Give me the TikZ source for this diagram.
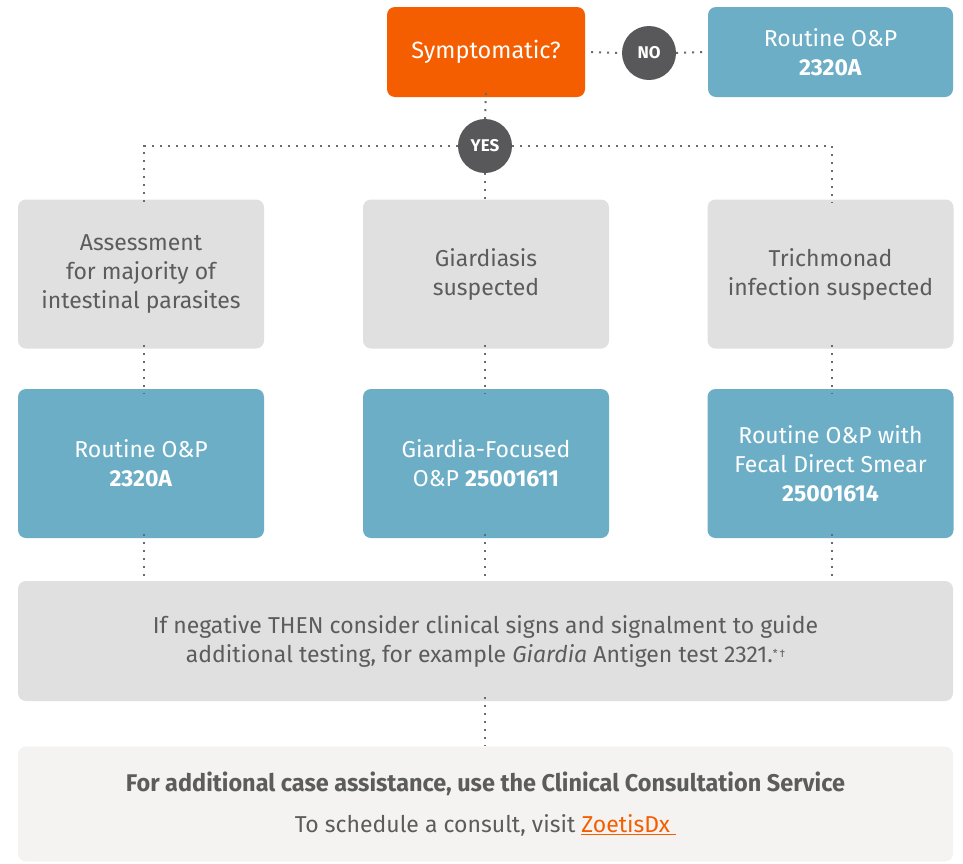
\documentclass[tikz,border=0pt]{standalone}
\usepackage{fontspec}
\setmainfont{Fira Sans}
\usetikzlibrary{calc}
\definecolor{zorange}{HTML}{F55E00}
\definecolor{zblue}{HTML}{6DAEC7}
\definecolor{zgray}{HTML}{E0E0E0}
\definecolor{zlight}{HTML}{F4F3F1}
\definecolor{zdark}{HTML}{58585A}
\definecolor{ztext}{HTML}{5C5C5C}
\definecolor{zdot}{HTML}{6A6A6A}
\tikzset{
  box/.style={rectangle, rounded corners=8pt, minimum width=246pt, minimum height=149pt, align=center, inner sep=0pt, font=\fontsize{23}{29}\selectfont},
  graybox/.style={box, fill=zgray, text=ztext},
  bluebox/.style={box, fill=zblue, text=white},
  circ/.style={circle, fill=zdark, text=white, minimum size=54pt, inner sep=0pt, font=\bfseries\fontsize{17}{17}\selectfont},
  dotline/.style={draw=zdot, line width=2pt, dash pattern=on 2pt off 6pt},
}
\begin{document}
\begin{tikzpicture}[x=1pt,y=-1pt]
\fill[white] (0,0) rectangle (963,863);
\useasboundingbox (0,0) rectangle (963,863);
% top row
\node[box, fill=zorange, text=white, minimum width=198pt, minimum height=90pt, font=\fontsize{23.5}{29}\selectfont] (sym) at (486,52) {Symptomatic?};
\node[bluebox, minimum width=245pt, minimum height=90pt] (rtop) at (830.5,52) {Routine O\&P\\\textbf{2320A}};
\node[circ] (no) at (649,53) {NO};
\node[circ] (yes) at (485,146) {YES};
% row 2
\node[graybox] (a1) at (141,274) {Assessment\\for majority of\\intestinal parasites};
\node[graybox] (a2) at (486,274) {Giardiasis\\suspected};
\node[graybox] (a3) at (830.5,274) {Trichmonad\\infection suspected};
% row 3
\node[bluebox] (b1) at (141,463.5) {Routine O\&P\\\textbf{2320A}};
\node[bluebox] (b2) at (486,463.5) {Giardia-Focused\\O\&P \textbf{25001611}};
\node[bluebox] (b3) at (830.5,463.5) {Routine O\&P with\\Fecal Direct Smear\\\textbf{25001614}};
% big box
\node[graybox, minimum width=935pt, minimum height=120pt] (neg) at (485.5,641) {If negative THEN consider clinical signs and signalment to guide\\additional testing, for example \textit{Giardia} Antigen test 2321.{\fontsize{11}{11}\selectfont\raisebox{0.7ex}{*\,†}}};
% bottom box
\node[box, fill=zlight, text=ztext, minimum width=935pt, minimum height=115pt] (cons) at (485.5,804) {\scalebox{1.02}[1.05]{\bfseries For additional case assistance, use the Clinical Consultation Service}\\[12pt]To schedule a consult, visit \textcolor{zorange}{\underline{ZoetisDx\ }}};
% connectors
\coordinate (jl) at (144,146);
\coordinate (jr) at (832,146);
\draw[dotline] ([xshift=6pt]sym.east) -- (no.west);
\draw[dotline] (no.east) -- ([xshift=-4pt]rtop.west);
\draw[dotline] ([yshift=4pt]sym.south) -- (yes.north);
\draw[dotline] (yes.west) -- (jl) -- ([yshift=-4pt]a1.north -| jl);
\draw[dotline] (yes.east) -- (jr) -- ([yshift=-4pt]a3.north -| jr);
\draw[dotline] (yes.south) -- ([yshift=-4pt]a2.north -| yes);
\draw[dotline] ([yshift=4pt]a1.south -| jl) -- ([yshift=-4pt]b1.north -| jl);
\draw[dotline] ([yshift=4pt]a2.south -| yes) -- ([yshift=-4pt]b2.north -| yes);
\draw[dotline] ([yshift=4pt]a3.south -| jr) -- ([yshift=-4pt]b3.north -| jr);
\draw[dotline] ([yshift=4pt]b1.south -| jl) -- (neg.north -| jl);
\draw[dotline] ([yshift=4pt]b2.south -| yes) -- (neg.north -| yes);
\draw[dotline] ([yshift=4pt]b3.south -| jr) -- (neg.north -| jr);
\draw[dotline] ([yshift=4pt]neg.south -| yes) -- (cons.north -| yes);
\end{tikzpicture}
\end{document}
